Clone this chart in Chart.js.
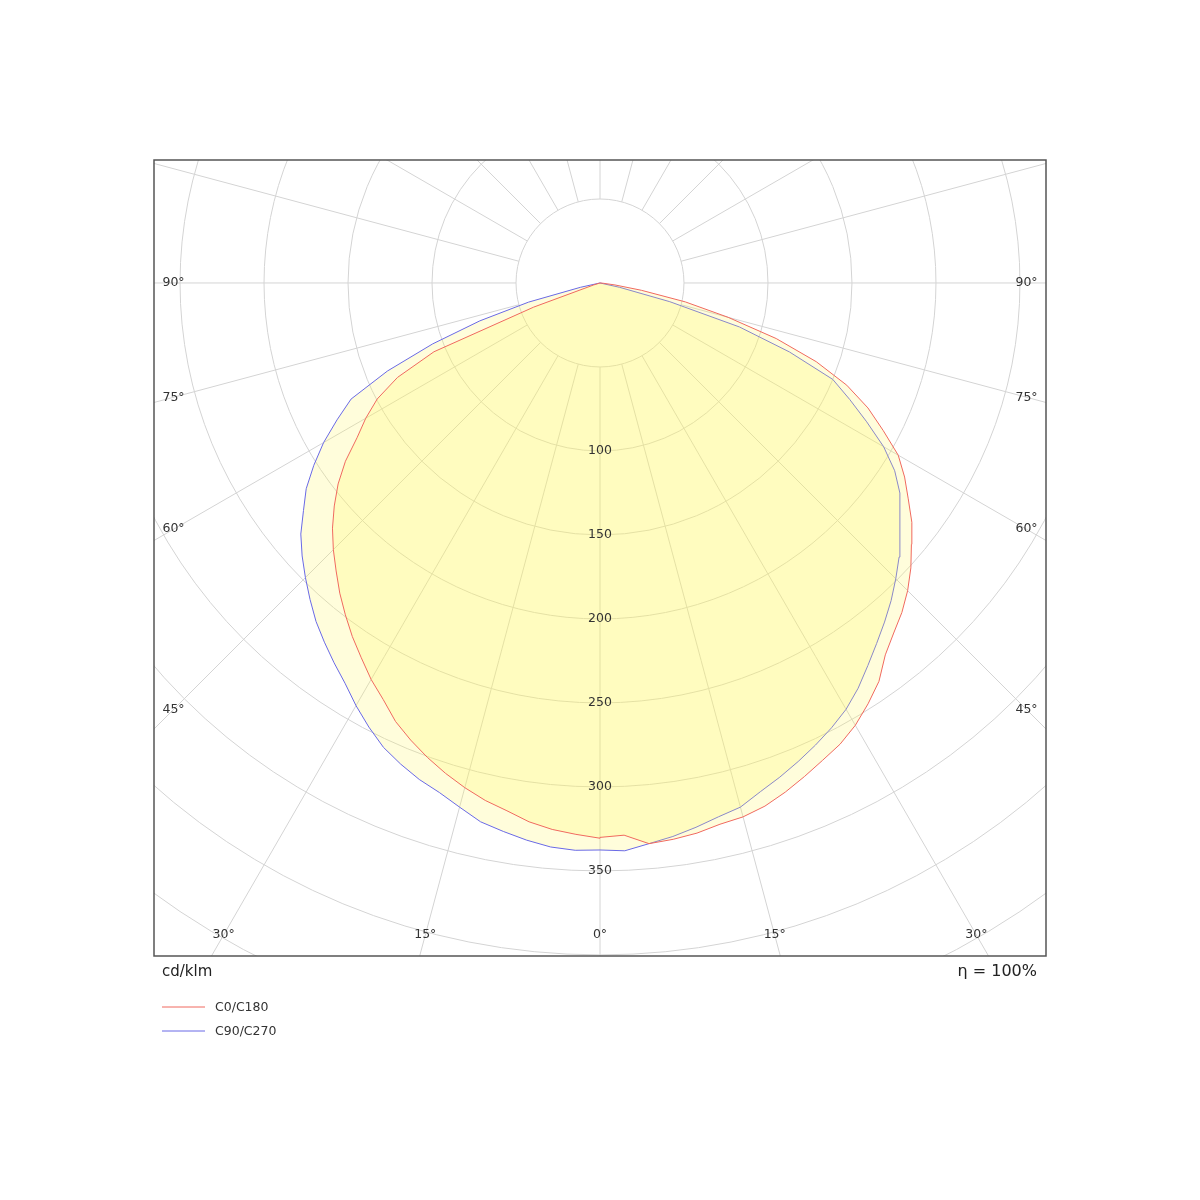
<!DOCTYPE html>
<html>
<head>
<meta charset="utf-8">
<script src="https://cdn.jsdelivr.net/npm/chart.js@4.4.0/dist/chart.umd.min.js"></script>
<style>
    html, body { margin: 0; padding: 0; background: #fff; }
    #wrap { width: 1200px; height: 1200px; }
</style>
</head>
<body>
<div id="wrap"><canvas id="ldc" width="1200" height="1200"></canvas></div>
<script>
// gamma angles (deg from nadir) and intensities in cd/klm
const gammaAngles = [0, 2.5, 5, 7.5, 10, 12.5, 15, 17.5, 20, 22.5, 25, 27.5, 30, 32.5, 35, 37.5, 40, 42.5, 45,
    47.5, 50, 52.5, 55, 57.5, 60, 62.5, 65, 67.5, 70, 72.5, 75, 77.5, 80, 82.5, 85, 87.5, 90];

const c0Values = [330, 329, 335, 334, 332.5, 330, 329, 326.5, 322.5, 318, 313.5, 309.5, 304, 297, 289.5, 279, 272, 266, 259,
    251, 242, 234, 224, 215, 205, 190, 176, 159, 137, 110, 79, 52, 25, 9, 2, 0, 0];
const c180Values = [330.5, 328.5, 326.5, 323.5, 319, 315.5, 311, 306, 300.5, 294.5, 288, 279.5, 272.5, 264.5, 257, 249, 241, 232.5, 224.5,
    216, 206.5, 196.5, 185, 171.5, 161, 149.5, 133, 107, 42, 4, 0, 0, 0, 0, 0, 0, 0];
const c90Values = [337.5, 338.3, 335, 332.3, 329, 325.5, 323, 317.5, 313, 308.3, 303.5, 298.5, 293, 286, 278, 270.5, 263.5, 256.5, 249,
    241.5, 233, 225, 218, 208, 195, 179, 164, 150, 120, 87, 43, 12, 0, 0, 0, 0, 0];
const c270Values = [337.5, 338, 337, 334.5, 331.5, 328.5, 323, 318, 314.5, 310, 305, 298, 290.5, 282.5, 276, 269.5, 263, 255.5, 248,
    240.5, 232.5, 222.5, 213.5, 202, 190, 176.5, 163.5, 137, 106, 75, 44, 12, 0, 0, 0, 0, 0];

const ringValues = [50, 100, 150, 200, 250, 300, 350, 400, 450, 500];
const ringLabels = [100, 150, 200, 250, 300, 350];
const angleLabels = [0, 15, 30, 45, 60, 75, 90];
const spokeStep = 15;

const xRange = [-265.5, 265.5];
const yRange = [-400.6, 73.2];

const rad = (d) => d * Math.PI / 180;

// left half goes 90 -> 0, right half 0 -> 90, so the outline closes at the centre
function toPoints(leftVals, rightVals) {
    const pts = [];
    for (let i = gammaAngles.length - 1; i >= 0; i--) {
        const g = rad(gammaAngles[i]);
        pts.push({ x: -leftVals[i] * Math.sin(g), y: -leftVals[i] * Math.cos(g) });
    }
    for (let i = 0; i < gammaAngles.length; i++) {
        const g = rad(gammaAngles[i]);
        pts.push({ x: rightVals[i] * Math.sin(g), y: -rightVals[i] * Math.cos(g) });
    }
    return pts;
}

const RED = 'rgb(240, 105, 95)';
const BLUE = 'rgb(105, 105, 230)';
const FILL = 'rgba(255, 245, 90, 0.22)';
const FONT = '"DejaVu Sans", Verdana, sans-serif';

const polarGrid = {
    id: 'polarGrid',
    beforeDatasetsDraw(chart) {
        const { ctx, chartArea: a, scales: { x, y } } = chart;
        const cx = x.getPixelForValue(0);
        const cy = y.getPixelForValue(0);
        const unit = x.getPixelForValue(1) - cx;
        ctx.save();
        ctx.beginPath();
        ctx.rect(a.left, a.top, a.right - a.left, a.bottom - a.top);
        ctx.clip();
        ctx.strokeStyle = '#d4d4d4';
        ctx.lineWidth = 1;
        ringValues.forEach((v) => {
            ctx.beginPath();
            ctx.arc(cx, cy, v * unit, 0, Math.PI * 2);
            ctx.stroke();
        });
        for (let d = 0; d < 360; d += spokeStep) {
            const g = rad(d);
            ctx.beginPath();
            ctx.moveTo(x.getPixelForValue(50 * Math.sin(g)), y.getPixelForValue(-50 * Math.cos(g)));
            ctx.lineTo(x.getPixelForValue(700 * Math.sin(g)), y.getPixelForValue(-700 * Math.cos(g)));
            ctx.stroke();
        }
        ctx.restore();
    },
    afterDatasetsDraw(chart) {
        const { ctx, chartArea: a, scales: { x, y } } = chart;
        const cx = x.getPixelForValue(0);
        const cy = y.getPixelForValue(0);
        ctx.save();
        ctx.fillStyle = '#333';
        ctx.font = '12.5px ' + FONT;
        ctx.textAlign = 'center';
        ctx.textBaseline = 'middle';

        ringLabels.forEach((v) => {
            ctx.fillText(String(v), cx, y.getPixelForValue(-v));
        });

        // angle labels sit where each spoke crosses a rectangle inset from the frame
        const inL = a.left + 19.5, inR = a.right - 19.5, inB = a.bottom - 21;
        [-1, 1].forEach((side) => {
            angleLabels.forEach((d) => {
                if (d === 0 && side < 0) return;
                const sx = Math.sin(rad(d)), sy = Math.cos(rad(d));
                let t = Infinity;
                if (sx > 1e-6) t = Math.min(t, side > 0 ? (inR - cx) / sx : (cx - inL) / sx);
                if (sy > 1e-6) t = Math.min(t, (inB - cy) / sy);
                ctx.fillText(d + '°', cx + side * sx * t, cy + sy * t);
            });
        });

        ctx.strokeStyle = '#555';
        ctx.lineWidth = 1.5;
        ctx.strokeRect(a.left, a.top, a.right - a.left, a.bottom - a.top);
        ctx.restore();
    },
    afterDraw(chart) {
        const { ctx, chartArea: a } = chart;
        ctx.save();
        ctx.fillStyle = '#222';
        ctx.textBaseline = 'middle';
        ctx.font = '15px ' + FONT;
        ctx.textAlign = 'left';
        ctx.fillText('cd/klm', a.left + 8, a.bottom + 16);
        ctx.font = '16px ' + FONT;
        ctx.textAlign = 'right';
        ctx.fillText('η = 100%', a.right - 9, a.bottom + 16);

        ctx.font = '12.5px ' + FONT;
        ctx.textAlign = 'left';
        chart.data.datasets.forEach((ds, i) => {
            const ly = a.bottom + 51 + i * 24;
            ctx.strokeStyle = ds.borderColor;
            ctx.lineWidth = 1;
            ctx.beginPath();
            ctx.moveTo(a.left + 8, ly);
            ctx.lineTo(a.left + 51, ly);
            ctx.stroke();
            ctx.fillStyle = '#333';
            ctx.fillText(ds.label, a.left + 61, ly + 1);
        });
        ctx.restore();
    }
};

new Chart(document.getElementById('ldc'), {
    type: 'scatter',
    data: {
        datasets: [{
            label: 'C0/C180',
            data: toPoints(c180Values, c0Values),
            showLine: true,
            borderColor: RED,
            borderWidth: 1,
            backgroundColor: FILL,
            fill: 'shape',
            pointRadius: 0,
            tension: 0,
        }, {
            label: 'C90/C270',
            data: toPoints(c270Values, c90Values),
            showLine: true,
            borderColor: BLUE,
            borderWidth: 1,
            backgroundColor: FILL,
            fill: 'shape',
            pointRadius: 0,
            tension: 0,
        }],
    },
    options: {
        responsive: false,
        animation: false,
        layout: { padding: { left: 154, right: 154, top: 160, bottom: 244 } },
        scales: {
            x: { type: 'linear', min: xRange[0], max: xRange[1], display: false },
            y: { type: 'linear', min: yRange[0], max: yRange[1], display: false },
        },
        plugins: { legend: { display: false }, tooltip: { enabled: false } },
    },
    plugins: [polarGrid],
});
</script>
</body>
</html>
